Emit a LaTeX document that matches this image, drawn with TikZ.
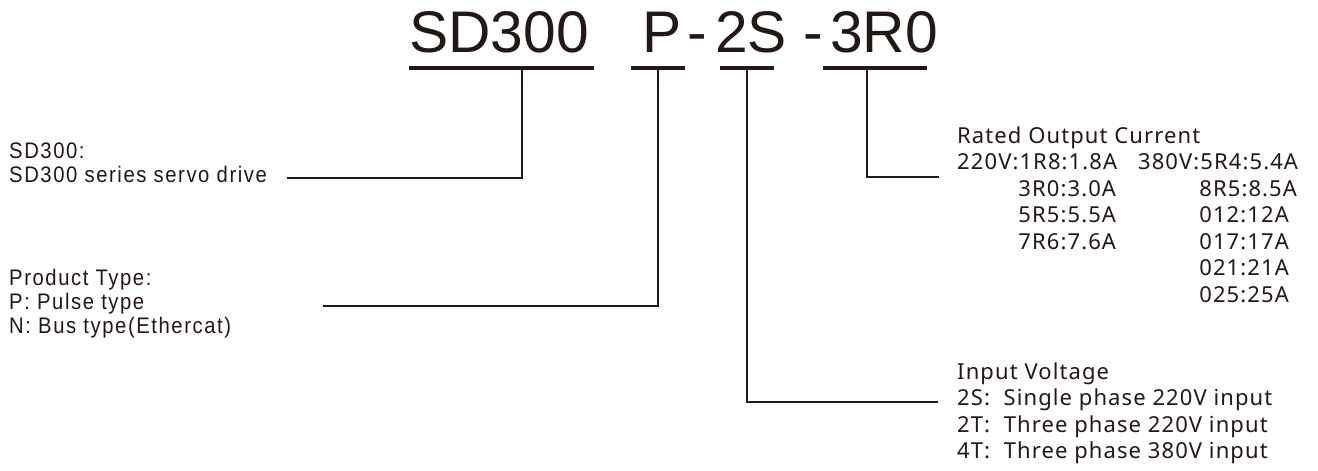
\documentclass[tikz,border=0pt]{standalone}
\usepackage{fontspec}
\setmainfont{Liberation Sans}
\newfontfamily\titlefont{Liberation Sans}
\newfontfamily\leftfont[FakeStretch=0.9,LetterSpace=7]{Liberation Sans}
\newfontfamily\rightfont[LetterSpace=5]{Noto Sans}
\definecolor{ink}{RGB}{35,24,21}
\begin{document}
\begin{tikzpicture}[x=1pt,y=-1pt,
  titletxt/.style={font=\titlefont\fontsize{58.7}{60}\selectfont, inner sep=0pt, anchor=base west, text=ink},
  bar/.style={line width=4.2pt, draw=ink},
  conn/.style={line width=1.3pt, draw=ink},
  lefttxt/.style={font=\leftfont\fontsize{22.5}{24}\selectfont, inner sep=0pt, anchor=base west, text=ink},
  righttxt/.style={font=\rightfont\fontsize{22}{26.5}\selectfont, inner sep=0pt, anchor=base west, text=ink}]
\useasboundingbox (0,0) rectangle (1318,471);
\fill[white] (0,0) rectangle (1318,471);
% title
\node[titletxt] (tSD) at (409,52) {SD300};
\node[titletxt] (tP) at (642,52) {P};
\node[titletxt, anchor=base] (tH1) at (697.5,52) {-};
\node[titletxt] (t2S) at (715,52) {2S};
\node[titletxt, anchor=base] (tH2) at (813.5,52) {-};
\node[titletxt] (t3R) at (830,52) {3R0};
% underline bars
\draw[bar] (409,68) -- (594,68);
\draw[bar] (631,68) -- (685,68);
\draw[bar] (720,68) -- (774,68);
\draw[bar] (823,68) -- (927,68);
\coordinate (kSD) at (522,68);
\coordinate (kP) at (658,68);
\coordinate (k2S) at (747,68);
\coordinate (k3R) at (867,68);
% connector ends
\coordinate (eSD) at (287,178);
\coordinate (eP) at (323,306);
\coordinate (e2S) at (938,402);
\coordinate (e3R) at (939,177);
\draw[conn] (kSD) |- (eSD);
\draw[conn] (kP) |- (eP);
\draw[conn] (k2S) |- (e2S);
\draw[conn] (k3R) |- (e3R);
% left texts
\node[lefttxt] (lSD) at (9,158) {\begin{tabular}[t]{@{}l@{}}SD300:\\SD300 series servo drive\end{tabular}};
\node[lefttxt] (lPT) at (9,285) {\begin{tabular}[t]{@{}l@{}}Product Type:\\P: Pulse type\\N: Bus type(Ethercat)\end{tabular}};
% right texts
\node[righttxt] (rRC) at (957,143) {\begin{tabular}[t]{@{}l@{\hspace{21pt}}l@{}}
\multicolumn{2}{@{}l@{}}{Rated Output Current}\\
220V:1R8:1.8A & 380V:5R4:5.4A\\
\phantom{220V:}3R0:3.0A & \phantom{380V:}8R5:8.5A\\
\phantom{220V:}5R5:5.5A & \phantom{380V:}012:12A\\
\phantom{220V:}7R6:7.6A & \phantom{380V:}017:17A\\
 & \phantom{380V:}021:21A\\
 & \phantom{380V:}025:25A
\end{tabular}};
\node[righttxt] (rIV) at (957,379) {\begin{tabular}[t]{@{}l@{}}
Input Voltage\\
2S:\ \ Single phase 220V input\\
2T:\ \ Three phase 220V input\\
4T:\ \ Three phase 380V input
\end{tabular}};
\end{tikzpicture}
\end{document}
